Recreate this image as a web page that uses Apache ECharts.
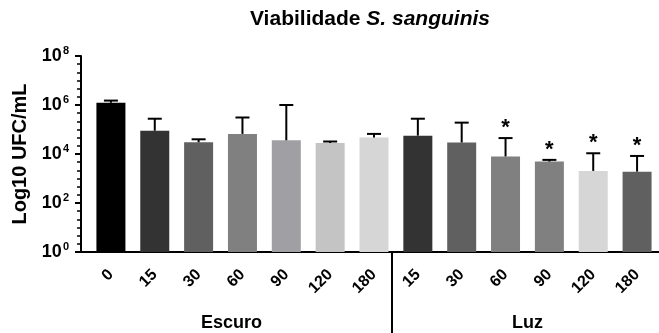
<!DOCTYPE html>
<html>
<head>
<meta charset="utf-8">
<script src="https://cdn.jsdelivr.net/npm/echarts@6/dist/echarts.min.js"></script>
<style>html,body{margin:0;padding:0;background:#fff}#c{width:659px;height:333px}</style>
</head>
<body>
<div id="c"></div>
<script>
// ---- data ----
const categories = ['0', '15', '30', '60', '90', '120', '180', '15', '30', '60', '90', '120', '180'];
const groupNames = ['Escuro', 'Luz'];
// log10(UFC/mL): bar means and top of error bars
const meanLog = [6.09, 4.95, 4.48, 4.82, 4.56, 4.45, 4.67, 4.75, 4.47, 3.90, 3.69, 3.31, 3.28];
const upperLog = [6.18, 5.44, 4.60, 5.49, 6.00, 4.51, 4.82, 5.44, 5.28, 4.65, 3.76, 4.03, 3.92];
const signif = ['', '', '', '', '', '', '', '', '', '*', '*', '*', '*'];
const barColors = ['#000000', '#333333', '#606060', '#808080', '#a0a0a4', '#c4c4c4', '#d6d6d6',
                   '#333333', '#606060', '#808080', '#808080', '#d6d6d6', '#606060'];
const yMin = 0, yMax = 8, yInterval = 2;

const FONT = "'Liberation Sans', Arial, sans-serif";
const chart = echarts.init(document.getElementById('c'), null, {renderer: 'canvas'});

const GRID_LEFT = 89, AXIS_OFFSET = 8;

const option = {
  animation: false,
  backgroundColor: '#ffffff',
  grid: {left: GRID_LEFT, right: -2, top: 56, bottom: 81, containLabel: false},
  xAxis: {
    type: 'category',
    data: categories,
    boundaryGap: true,
    axisLine: {lineStyle: {color: '#000', width: 2}},
    axisTick: {alignWithLabel: true, length: 6, lineStyle: {color: '#000', width: 2}},
    axisLabel: {rotate: 45, margin: 20, color: '#000', fontFamily: FONT, fontWeight: 'bold', fontSize: 16, interval: 0},
    splitLine: {show: false}
  },
  yAxis: {
    type: 'value',
    min: yMin, max: yMax, interval: yInterval,
    offset: AXIS_OFFSET,
    name: 'Log10 UFC/mL',
    nameLocation: 'middle',
    nameGap: 48,
    nameTextStyle: {color: '#000', fontFamily: FONT, fontWeight: 'bold', fontSize: 20},
    axisLine: {show: true, lineStyle: {color: '#000', width: 2}},
    axisTick: {show: true, length: 6, lineStyle: {color: '#000', width: 2}},
    minorTick: {show: true, splitNumber: 6, length: 4, lineStyle: {color: '#000', width: 1.5}},
    splitLine: {show: false},
    axisLabel: {
      margin: 12,
      formatter: function (v) { return '{b|10}{s|' + v + '}'; },
      rich: {
        b: {color: '#000', fontFamily: FONT, fontWeight: 'bold', fontSize: 18},
        s: {color: '#000', fontFamily: FONT, fontWeight: 'bold', fontSize: 11, padding: [0, 0, 10, 1]}
      }
    }
  },
  series: [
    {
      type: 'bar',
      barWidth: 29,
      data: meanLog.map(function (v, i) { return {value: v, itemStyle: {color: barColors[i]}}; })
    },
    {
      type: 'custom',
      data: meanLog.map(function (v, i) { return [i, v, upperLog[i]]; }),
      z: 5,
      renderItem: function (params, api) {
        const i = api.value(0);
        const pMean = api.coord([i, api.value(1)]);
        const pUp = api.coord([i, api.value(2)]);
        const cap = 7;
        const children = [
          {type: 'line', shape: {x1: pMean[0], y1: pMean[1], x2: pUp[0], y2: pUp[1]}, style: {stroke: '#000', lineWidth: 2}},
          {type: 'line', shape: {x1: pUp[0] - cap, y1: pUp[1], x2: pUp[0] + cap, y2: pUp[1]}, style: {stroke: '#000', lineWidth: 2}}
        ];
        const s = signif[params.dataIndex];
        if (s) {
          children.push({type: 'text', style: {text: s, x: pUp[0], y: pUp[1] + 1, align: 'center', verticalAlign: 'bottom',
            fill: '#000', font: 'bold 22px ' + FONT}});
        }
        return {type: 'group', children: children};
      }
    }
  ]
};
chart.setOption(option);

function px(i, v) { return chart.convertToPixel({xAxisIndex: 0, yAxisIndex: 0}, [i, v]); }
const axisY = px(0, yMin)[1];
const sepX = px(6, yMin)[0] + 18;
const escX = (px(0, yMin)[0] + px(6, yMin)[0]) / 2 - 11;
const luzX = (px(7, yMin)[0] + px(12, yMin)[0]) / 2;
const titleX = (GRID_LEFT - AXIS_OFFSET + 659) / 2;

chart.setOption({
  graphic: [
    {type: 'line', shape: {x1: GRID_LEFT - AXIS_OFFSET - 1, y1: axisY, x2: GRID_LEFT + 1, y2: axisY}, style: {stroke: '#000', lineWidth: 2}},
    {type: 'line', shape: {x1: sepX, y1: axisY, x2: sepX, y2: 333}, style: {stroke: '#000', lineWidth: 2}},
    {type: 'text', x: escX, y: 323, style: {text: groupNames[0], align: 'center', verticalAlign: 'middle', fill: '#000', font: 'bold 18px ' + FONT}},
    {type: 'text', x: luzX, y: 323, style: {text: groupNames[1], align: 'center', verticalAlign: 'middle', fill: '#000', font: 'bold 18px ' + FONT}},
    {type: 'text', x: titleX, y: 19, style: {
      text: '{b|Viabilidade }{i|S. sanguinis}', align: 'center', verticalAlign: 'middle',
      rich: {
        b: {fill: '#000', fontFamily: FONT, fontWeight: 'bold', fontSize: 21},
        i: {fill: '#000', fontFamily: FONT, fontWeight: 'bold', fontStyle: 'italic', fontSize: 21}
      }
    }}
  ]
});
</script>
</body>
</html>
